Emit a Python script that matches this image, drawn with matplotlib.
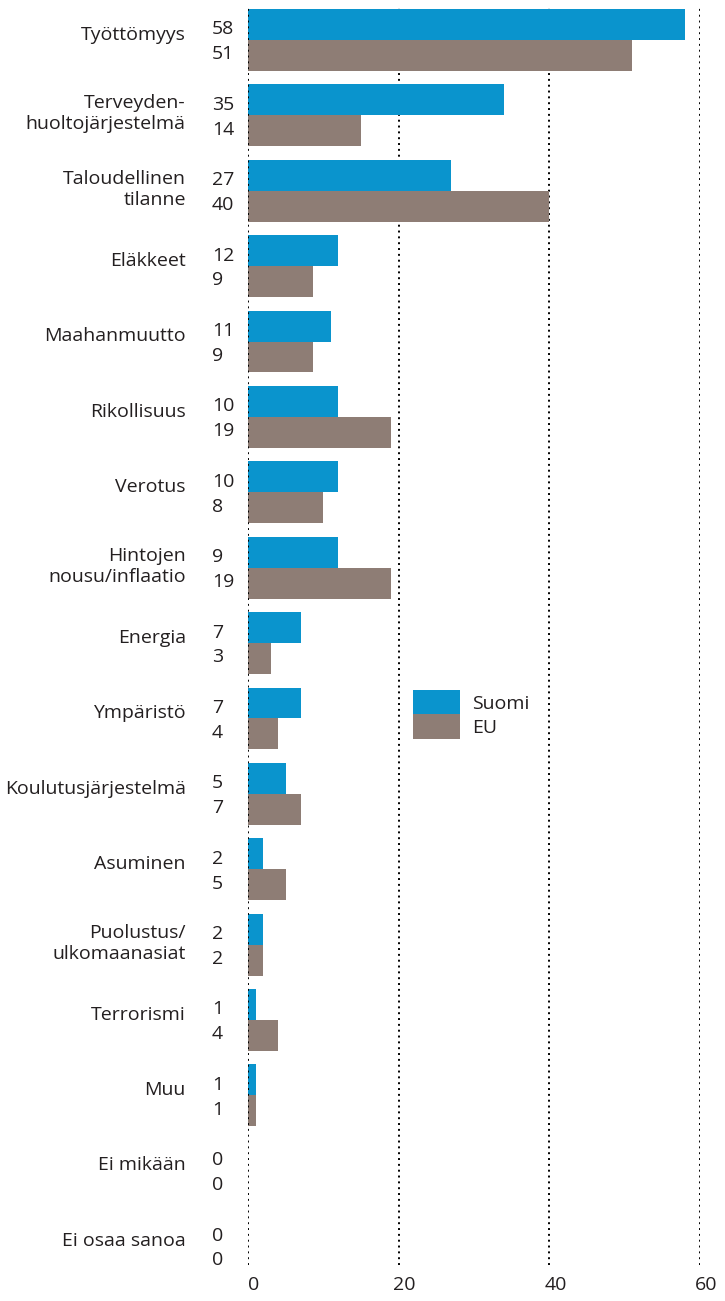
import matplotlib
matplotlib.use("Agg")
import matplotlib.pyplot as plt
import matplotlib.transforms as mtransforms
from matplotlib.patches import Patch
import numpy as np

plt.rcParams['font.family'] = ['Open Sans', 'DejaVu Sans']

categories = ["Työttömyys", "Terveyden-\nhuoltojärjestelmä", "Taloudellinen\ntilanne",
              "Eläkkeet", "Maahanmuutto", "Rikollisuus", "Verotus",
              "Hintojen\nnousu/inflaatio", "Energia", "Ympäristö",
              "Koulutusjärjestelmä", "Asuminen", "Puolustus/\nulkomaanasiat",
              "Terrorismi", "Muu", "Ei mikään", "Ei osaa sanoa"]
# bar lengths as drawn in the picture
suomi_bars = [58, 34, 27, 12, 11, 12, 12, 12, 7, 7, 5, 2, 2, 1, 1, 0, 0]
eu_bars = [51, 15, 40, 8.6, 8.6, 19, 10, 19, 3, 4, 7, 5, 2, 4, 1, 0, 0]
# printed value labels
suomi_labels = ["58", "35", "27", "12", "11", "10", "10", "9", "7", "7", "5", "2", "2", "1", "1", "0", "0"]
eu_labels = ["51", "14", "40", "9", "9", "19", "8", "19", "3", "4", "7", "5", "2", "4", "1", "0", "0"]
series_names = ["Suomi", "EU"]
xticks = [0, 20, 40, 60]

blue = "#0a94cd"
brown = "#8e7d75"
txt = "#231f20"
fs = 14

fig = plt.figure(figsize=(7.25, 13.01), dpi=100)
ax = fig.add_axes([248/725, 1-1265/1301, (700-248)/725, (1265-5)/1301])

y = np.arange(len(categories))
h = 0.41
ax.barh(y - h/2, suomi_bars, height=h, color=blue, zorder=2)
ax.barh(y + h/2, eu_bars, height=h, color=brown, zorder=2)

for gx in xticks:
    ax.axvline(gx, color="black", linestyle=(0, (1, 2)), linewidth=1.4,
               zorder=3 if gx == 0 else 1)

ax.set_xlim(0, 60)
ax.set_ylim(16.25, -0.464)
for s in ax.spines.values():
    s.set_visible(False)
ax.set_yticks([])
ax.set_xticks(xticks)
ax.set_xticklabels([str(t) for t in xticks], fontsize=fs, color=txt)
ax.tick_params(axis='x', length=0, pad=8)
offset = mtransforms.ScaledTranslation(6/100, 0, fig.dpi_scale_trans)
for lab in ax.get_xticklabels():
    lab.set_transform(lab.get_transform() + offset)

for i, cat in enumerate(categories):
    dy = -0.02 if "\n" in cat else -0.07
    ax.text(-8.25, i + dy, cat, ha='right', va='center', fontsize=fs, color=txt,
            linespacing=1.22, clip_on=False)
    ax.text(-4.8, i - 0.14, suomi_labels[i], ha='left', va='center', fontsize=fs,
            color=txt, clip_on=False)
    ax.text(-4.8, i + 0.19, eu_labels[i], ha='left', va='center', fontsize=fs,
            color=txt, clip_on=False)

handles = [Patch(facecolor=blue, edgecolor='none'), Patch(facecolor=brown, edgecolor='none')]
fig.legend(handles, series_names, loc='upper left', bbox_to_anchor=(413/725, 1-690/1301),
           frameon=False, fontsize=fs, handlelength=2.4, handleheight=1.55,
           labelspacing=0, borderpad=0, borderaxespad=0, handletextpad=0.65,
           labelcolor=txt)

fig.savefig("out.png", dpi=100)
